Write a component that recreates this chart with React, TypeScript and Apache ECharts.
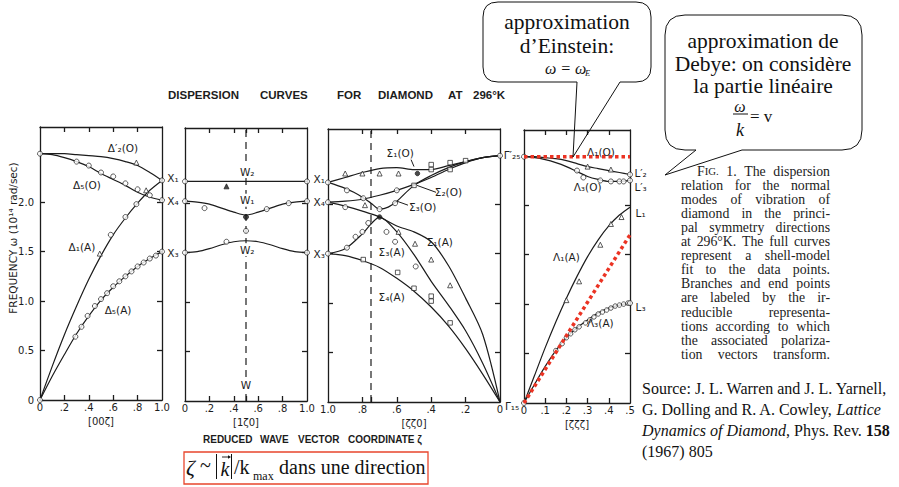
import React, { useEffect, useRef } from "react";
import * as echarts from "echarts";

// ---------------- data (ω in 10^14 rad/s) ----------------
// Panel 1: [00ζ], Δ direction
const deltaZeta = [0, 0.1, 0.2, 0.3, 0.4, 0.5, 0.6, 0.7, 0.8, 0.9, 1.0];
const delta2pO = [2.49, 2.49, 2.49, 2.48, 2.47, 2.46, 2.44, 2.41, 2.37, 2.3, 2.22];
const delta5O = [2.49, 2.48, 2.45, 2.41, 2.36, 2.29, 2.23, 2.17, 2.1, 2.05, 2.02];
const delta1A = [0, 0.34, 0.66, 0.95, 1.22, 1.46, 1.67, 1.84, 1.99, 2.12, 2.22];
const delta5A = [0, 0.24, 0.46, 0.67, 0.85, 1.01, 1.14, 1.25, 1.35, 1.43, 1.5];
const delta5OCircles = [[0.3, 2.41], [0.4, 2.37], [0.5, 2.3], [0.6, 2.26], [0.7, 2.19], [0.8, 2.13], [0.9, 2.07]];
const delta2pOTriangles = [[0.79, 2.4]];
const delta1ATriangles = [[0.49, 1.48], [0.87, 2.12]];
const delta1ACircles = [[0.58, 1.67], [0.7, 1.85], [0.79, 1.98]];
const delta5ACircles = [[0.29, 0.64], [0.34, 0.74], [0.39, 0.85], [0.45, 0.95], [0.5, 1.02], [0.55, 1.08], [0.6, 1.15], [0.65, 1.2], [0.7, 1.25], [0.75, 1.3], [0.8, 1.35], [0.85, 1.39], [0.9, 1.43], [0.95, 1.46]];
const deltaEnds = [[0, 2.49], [0, 0], [1, 2.22], [1, 2.02], [1, 1.5]];

// Panel 2: [1ζ0], X–W–X
const wZeta = [0, 0.1, 0.2, 0.3, 0.4, 0.5, 0.6, 0.7, 0.8, 0.9, 1.0];
const wTop = [2.22, 2.22, 2.22, 2.22, 2.22, 2.22, 2.22, 2.22, 2.22, 2.22, 2.22];
const wMiddle = [2.02, 2.01, 1.99, 1.95, 1.91, 1.88, 1.91, 1.95, 1.99, 2.01, 2.02];
const wLower = [1.5, 1.51, 1.54, 1.58, 1.61, 1.62, 1.61, 1.58, 1.54, 1.51, 1.5];
const wCircles = [[0.16, 1.95], [0.67, 1.94], [0.85, 2.0], [0.5, 1.72], [0.34, 1.61]];
const wFilled = [[0.5, 1.86]];
const wTriangles = [[0.34, 2.17]];
const wEnds = [[0, 2.22], [1, 2.22], [0, 2.02], [1, 2.02], [0, 1.5], [1, 1.5]];

// Panel 3: [ζζ0], Σ direction (ζ from 1 down to 0)
const sigmaZeta = [1.0, 0.9, 0.8, 0.7, 0.6, 0.5, 0.4, 0.3, 0.2, 0.1, 0];
const sigma1O = [2.22, 2.27, 2.32, 2.36, 2.37, 2.35, 2.35, 2.39, 2.43, 2.47, 2.49];
const sigma2O = [2.02, 2.03, 2.05, 2.09, 2.14, 2.2, 2.27, 2.35, 2.42, 2.47, 2.49];
const sigma3OZeta = [1.0, 0.9, 0.85, 0.8, 0.75, 0.7, 0.65, 0.6, 0.5, 0.4, 0.3, 0.2, 0.1, 0];
const sigma3O = [2.22, 2.16, 2.12, 2.07, 2.01, 1.95, 1.97, 2.03, 2.19, 2.29, 2.37, 2.43, 2.47, 2.49];
const sigma1A = [2.02, 1.98, 1.93, 1.87, 1.78, 1.72, 1.62, 1.38, 1.05, 0.68, 0];
const sigma3AZeta = [1.0, 0.9, 0.8, 0.75, 0.7, 0.6, 0.5, 0.4, 0.3, 0.2, 0.1, 0];
const sigma3A = [1.5, 1.55, 1.7, 1.8, 1.87, 1.72, 1.49, 1.22, 0.98, 0.72, 0.39, 0];
const sigma4A = [1.5, 1.48, 1.43, 1.36, 1.25, 1.12, 0.96, 0.77, 0.54, 0.28, 0];
const sigmaTriangles = [[0.9, 2.31], [0.8, 2.31], [0.7, 2.31], [0.59, 2.31], [0.785, 1.99], [0.59, 1.72], [0.494, 1.6], [0.4, 1.44], [0.29, 1.18]];
const sigmaFilled = [[0.48, 2.31], [0.7, 1.87]];
const sigmaCircles = [[0.89, 2.14], [0.795, 2.06], [0.7, 1.95], [0.61, 2.01], [0.6, 2.14], [0.89, 1.56], [0.84, 1.67], [0.8, 1.72], [0.766, 1.81], [0.66, 1.72], [0.61, 1.62], [0.49, 1.37], [0.9, 1.97]];
const sigmaSquares = [[0.4, 2.4], [0.4, 2.35], [0.29, 2.42], [0.29, 2.35], [0.2, 2.44], [0.5, 2.19], [0.795, 1.44], [0.595, 1.31], [0.5, 1.15], [0.4, 1.07], [0.4, 1.02], [0.29, 0.8]];
const sigmaEnds = [[1, 2.22], [1, 2.02], [1, 1.5], [0, 2.49]];
const sigma1OLeader = [[0.517, 2.45], [0.5, 2.38]];
const sigma2OLeader = [[0.372, 2.12], [0.483, 2.19]];
const sigma3OLeader = [[0.535, 1.99], [0.599, 2.03]];

// Panel 4: [ζζζ], Λ direction
const lambdaZeta = [0, 0.05, 0.1, 0.15, 0.2, 0.25, 0.3, 0.35, 0.4, 0.45, 0.5];
const lambda1O = [2.49, 2.49, 2.48, 2.47, 2.45, 2.42, 2.39, 2.37, 2.35, 2.33, 2.31];
const lambda3O = [2.49, 2.48, 2.46, 2.43, 2.39, 2.34, 2.29, 2.26, 2.24, 2.24, 2.25];
const lambda1A = [0, 0.28, 0.56, 0.82, 1.06, 1.28, 1.48, 1.65, 1.79, 1.9, 1.98];
const lambda3A = [0, 0.19, 0.37, 0.53, 0.66, 0.76, 0.84, 0.91, 0.96, 0.99, 1.01];
const lambda1OTriangles = [[0.3, 2.39], [0.41, 2.36]];
const lambda3OCircles = [[0.25, 2.35], [0.28, 2.28], [0.36, 2.25], [0.41, 2.24], [0.45, 2.24], [0.47, 2.24]];
const lambda1ATriangles = [[0.2, 1.04], [0.26, 1.23], [0.36, 1.6], [0.41, 1.81], [0.46, 1.88]];
const lambda3ACircles = [[0.15, 0.53], [0.18, 0.6], [0.2, 0.66], [0.22, 0.7], [0.24, 0.74], [0.26, 0.77], [0.29, 0.81], [0.31, 0.84], [0.33, 0.87], [0.35, 0.9], [0.37, 0.92], [0.39, 0.94], [0.41, 0.96], [0.43, 0.98], [0.45, 0.99], [0.47, 1.0], [0.49, 1.01]];
const lambdaEnds = [[0, 2.49], [0.5, 2.31], [0.5, 2.25], [0.5, 1.01], [0, 0]];
const einsteinLevel = [[0, 2.49], [0.5, 2.49]];
const debyeSlope = [[0, 0], [0.5, 1.7]];

// tick values / tick labels
const xLabels0to1 = [0, 0.2, 0.4, 0.6, 0.8, 1.0];
const xTicks00z = [0.2, 0.4, 0.6, 0.8];
const xTicks1z0 = [0.2, 0.4, 0.5, 0.6, 0.8];
const xTicksZZ0 = [0.2, 0.4, 0.6, 0.75, 0.8];
const xLabelsZZZ = [0, 0.1, 0.2, 0.3, 0.4, 0.5];
const xTicksZZZ = [0.1, 0.2, 0.3, 0.4];
const yLabelValues = [0, 0.5, 1.0, 1.5, 2.0];
const yTickValues = [0.5, 1.0, 1.5, 2.0];
const panelNames = ["[00ζ]", "[1ζ0]", "[ζζ0]", "[ζζζ]"];

// curve / point labels: panel, ζ, ω, text
const curveLabels: [number, number, number, string, boolean?][] = [
  [0, 0.68, 2.55, "Δ′₂(O)"],
  [0, 0.385, 2.17, "Δ₅(O)"],
  [0, 0.344, 1.55, "Δ₁(A)"],
  [0, 0.64, 0.91, "Δ₅(A)"],
  [0, 1.09, 2.24, "X₁"],
  [0, 1.09, 2.01, "X₄"],
  [0, 1.09, 1.49, "X₃"],
  [1, 0.51, 2.32, "W₂", true],
  [1, 0.51, 2.03, "W₁", true],
  [1, 0.51, 1.53, "W₂", true],
  [1, 0.5, 0.16, "W", true],
  [1, 1.1, 2.24, "X₁"],
  [1, 1.1, 2.01, "X₄"],
  [1, 1.1, 1.49, "X₃"],
  [2, 0.58, 2.52, "Σ₁(O)"],
  [2, 0.3, 2.12, "Σ₂(O)"],
  [2, 0.45, 1.97, "Σ₃(O)"],
  [2, 0.35, 1.62, "Σ₁(A)"],
  [2, 0.63, 1.52, "Σ₃(A)"],
  [2, 0.63, 1.06, "Σ₄(A)"],
  [2, -0.07, 2.5, "Γ′₂₅"],
  [2, -0.07, -0.04, "Γ₁₅"],
  [3, 0.363, 2.54, "Λ₁(O)"],
  [3, 0.3, 2.18, "Λ₃(O)"],
  [3, 0.2, 1.48, "Λ₁(A)"],
  [3, 0.36, 0.81, "Λ₃(A)"],
  [3, 0.55, 2.33, "L′₂"],
  [3, 0.55, 2.18, "L′₃"],
  [3, 0.55, 1.92, "L₁"],
  [3, 0.55, 0.97, "L₃"],
];

const captionLines = [
  "FIG. 1. The dispersion",
  "relation for the normal",
  "modes of vibration of",
  "diamond in the princi-",
  "pal symmetry directions",
  "at 296°K. The full curves",
  "represent a shell-model",
  "fit to the data points.",
  "Branches and end points",
  "are labeled by the ir-",
  "reducible representa-",
  "tions according to which",
  "the associated polariza-",
  "tion vectors transform.",
];

// ---------------- layout ----------------
const INK = "#1c1c1c";
const RED = "#eb3323";
const Y_MAX = 2.76;
const PANEL_H = 273;
const PANELS = [
  { left: 40, top: 127, width: 122, max: 1, inverse: false, ticks: xTicks00z, labels: xLabels0to1 },
  { left: 185, top: 128, width: 122, max: 1, inverse: false, ticks: xTicks1z0, labels: xLabels0to1 },
  { left: 328, top: 129, width: 172, max: 1, inverse: true, ticks: xTicksZZ0, labels: xLabels0to1 },
  { left: 524, top: 130, width: 106, max: 0.5, inverse: false, ticks: xTicksZZZ, labels: xLabelsZZZ },
];

const EINSTEIN_D = "M498 2H636Q651 2 651 17V67Q651 82 636 82H620L573 157L577 82H498Q483 82 483 67V17Q483 2 498 2Z";
const DEBYE_D = "M685 15H842Q862 15 862 35V130Q862 150 842 150H742L665 175L696 150H685Q665 150 665 130V35Q665 15 685 15Z";
echarts.graphic.registerShape("calloutEinstein", echarts.graphic.extendPath(EINSTEIN_D, {}));
echarts.graphic.registerShape("calloutDebye", echarts.graphic.extendPath(DEBYE_D, {}));

const SERIF = '"Liberation Serif", "Times New Roman", serif';
const SANS = '"Liberation Sans", Arial, sans-serif';
const DSANS = '"DejaVu Sans", sans-serif';

const fmtX = (v: number) => (v === 0 ? "0" : v > 0.999 ? "1.0" : "." + Math.round(v * 10));
const fmtY = (v: number) => (v === 0 ? "0" : v.toFixed(1));
const pairs = (xs: number[], ys: number[]) => xs.map((x, i) => [x, ys[i]]);

function buildOption() {
  const axisLineStyle = { color: INK, width: 1.3 };
  const grid = PANELS.map((p) => ({ left: p.left, top: p.top, width: p.width, height: PANEL_H }));
  const xAxis: any[] = [];
  const yAxis: any[] = [];
  PANELS.forEach((p, i) => {
    ["bottom", "top"].forEach((pos) => {
      xAxis.push({
        type: "value", gridIndex: i, position: pos, min: 0, max: p.max, inverse: p.inverse,
        axisLine: { show: true, onZero: false, lineStyle: axisLineStyle },
        axisTick: { show: true, inside: true, length: 5, customValues: p.ticks, lineStyle: axisLineStyle },
        axisLabel: pos === "bottom"
          ? { show: true, customValues: p.labels, formatter: fmtX, margin: 2, fontSize: 10, lineHeight: 11, fontFamily: DSANS, color: INK }
          : { show: false },
        splitLine: { show: false },
      });
    });
    ["left", "right"].forEach((pos) => {
      yAxis.push({
        type: "value", gridIndex: i, position: pos, min: 0, max: Y_MAX,
        axisLine: { show: true, onZero: false, lineStyle: axisLineStyle },
        axisTick: { show: true, inside: true, length: 5, customValues: yTickValues, lineStyle: axisLineStyle },
        axisLabel: i === 0 && pos === "left"
          ? { show: true, customValues: yLabelValues, formatter: fmtY, margin: 6, fontSize: 10, fontFamily: DSANS, color: INK }
          : { show: false },
        splitLine: { show: false },
      });
    });
  });

  const series: any[] = [];
  const curve = (p: number, data: number[][], extra: any = {}) =>
    series.push({
      type: "line", xAxisIndex: 2 * p, yAxisIndex: 2 * p, data, showSymbol: false, smooth: 0.3,
      lineStyle: { color: INK, width: 1.2 }, silent: true, z: 2, ...extra,
    });
  const marks = (p: number, data: number[][], symbol: string, size: number, filled = false) =>
    series.push({
      type: "scatter", xAxisIndex: 2 * p, yAxisIndex: 2 * p, data, symbol, symbolSize: size, silent: true, z: 4,
      itemStyle: { color: filled ? INK : "#fff", borderColor: INK, borderWidth: 0.9 },
    });

  curve(0, pairs(deltaZeta, delta2pO));
  curve(0, pairs(deltaZeta, delta5O));
  curve(0, pairs(deltaZeta, delta1A));
  curve(0, pairs(deltaZeta, delta5A));
  marks(0, delta5OCircles, "circle", 5);
  marks(0, delta2pOTriangles, "triangle", 5);
  marks(0, delta1ATriangles, "triangle", 5);
  marks(0, delta1ACircles, "circle", 5);
  marks(0, delta5ACircles, "circle", 5);
  marks(0, deltaEnds, "circle", 5);

  curve(1, pairs(wZeta, wTop), { smooth: false });
  curve(1, pairs(wZeta, wMiddle));
  curve(1, pairs(wZeta, wLower));
  curve(1, [[0.5, 0], [0.5, Y_MAX]], { smooth: false, lineStyle: { color: INK, width: 1.2, type: [7, 5] }, z: 1 });
  marks(1, wCircles, "circle", 5);
  marks(1, wFilled, "circle", 5, true);
  marks(1, wTriangles, "triangle", 5, true);
  marks(1, wEnds, "circle", 5);

  curve(2, pairs(sigmaZeta, sigma1O));
  curve(2, pairs(sigmaZeta, sigma2O));
  curve(2, pairs(sigma3OZeta, sigma3O));
  curve(2, pairs(sigmaZeta, sigma1A));
  curve(2, pairs(sigma3AZeta, sigma3A));
  curve(2, pairs(sigmaZeta, sigma4A));
  curve(2, [[0.75, 0], [0.75, Y_MAX]], { smooth: false, lineStyle: { color: INK, width: 1.2, type: [7, 5] }, z: 1 });
  curve(2, sigma1OLeader, { smooth: false, lineStyle: { color: INK, width: 1 } });
  curve(2, sigma2OLeader, { smooth: false, lineStyle: { color: INK, width: 1 } });
  curve(2, sigma3OLeader, { smooth: false, lineStyle: { color: INK, width: 1 } });
  marks(2, sigmaTriangles, "triangle", 5);
  marks(2, sigmaFilled, "circle", 4.5, true);
  marks(2, sigmaCircles, "circle", 5);
  marks(2, sigmaSquares, "rect", 4.5);
  marks(2, sigmaEnds, "circle", 5);

  curve(3, pairs(lambdaZeta, lambda1O));
  curve(3, pairs(lambdaZeta, lambda3O));
  curve(3, pairs(lambdaZeta, lambda1A));
  curve(3, pairs(lambdaZeta, lambda3A));
  marks(3, lambda1OTriangles, "triangle", 5);
  marks(3, lambda3OCircles, "circle", 5);
  marks(3, lambda1ATriangles, "triangle", 5);
  marks(3, lambda3ACircles, "circle", 4.5);
  marks(3, lambdaEnds, "circle", 5);
  curve(3, einsteinLevel, { smooth: false, clip: false, lineStyle: { color: RED, width: 3.5, type: [3.5, 3] }, z: 6 });
  curve(3, debyeSlope, { smooth: false, clip: false, lineStyle: { color: RED, width: 3.5, type: [3.5, 3] }, z: 6 });

  return { backgroundColor: "#fff", animation: false, grid, xAxis, yAxis, series };
}

function txt(x: number, y: number, text: string, o: any = {}) {
  const { rotation, ...style } = o;
  return {
    type: "text", x, y, rotation: rotation || 0, silent: true, z: 10,
    style: { text, fill: INK, fontFamily: SANS, fontSize: 11, align: "left", verticalAlign: "middle", ...style },
  };
}

function staticGraphics(measure: (t: string, f: string) => number) {
  const g: any[] = [];
  // Title
  ([["DISPERSION", 168], ["CURVES", 260], ["FOR", 337], ["DIAMOND", 378], ["AT", 448], ["296°K", 473]] as [string, number][]).forEach(
    ([w, x]) => g.push(txt(x, 95, w, { fontWeight: "bold", fontSize: 11.5 }))
  );
  // Y axis name
  g.push(txt(13, 238, "FREQUENCY ω (10¹⁴ rad/sec)", { align: "center", rotation: Math.PI / 2, fontSize: 10.5, fontFamily: DSANS }));
  // panel names (just under each panel's tick labels)
  PANELS.forEach((p, i) =>
    g.push(txt(p.left + p.width / 2, p.top + PANEL_H + 21, panelNames[i], { align: "center", fontSize: 10, lineHeight: 11, fontFamily: DSANS }))
  );
  // reduced wave vector coordinate
  ([["REDUCED", 203], ["WAVE", 260], ["VECTOR", 298], ["COORDINATE ζ", 348]] as [string, number][]).forEach(([w, x]) =>
    g.push(txt(x, 439, w, { fontWeight: "bold", fontSize: 10 }))
  );

  // callouts
  g.push({ type: "calloutEinstein", x: 0, y: 0, silent: true, z: 9, style: { fill: "none", stroke: "#111", lineWidth: 1 } });
  g.push({ type: "calloutDebye", x: 0, y: 0, silent: true, z: 9, style: { fill: "none", stroke: "#111", lineWidth: 1 } });
  const cs = { fontFamily: SERIF, fontSize: 21.5, lineHeight: 22, align: "center", fill: "#111" };
  g.push(txt(567, 22, "approximation", cs));
  g.push(txt(567, 46, "d’Einstein:", cs));
  g.push(txt(545, 68, "ω = ω", { ...cs, align: "left", fontSize: 16, lineHeight: 16, fontStyle: "italic" }));
  g.push(txt(585, 73, "E", { ...cs, align: "left", fontSize: 8.5, lineHeight: 9, fontStyle: "italic" }));
  g.push(txt(763, 41, "approximation de", cs));
  g.push(txt(763, 64, "Debye: on considère", cs));
  g.push(txt(763, 86, "la partie linéaire", cs));
  g.push(txt(740, 106, "ω", { ...cs, fontSize: 16, lineHeight: 14, fontStyle: "italic" }));
  g.push({ type: "line", silent: true, z: 10, shape: { x1: 733, y1: 114, x2: 748, y2: 114 }, style: { stroke: "#111", lineWidth: 1 } });
  g.push(txt(740, 130, "k", { ...cs, fontSize: 18, lineHeight: 16, fontStyle: "italic" }));
  g.push(txt(750, 116, "= v", { ...cs, align: "left", fontSize: 17, lineHeight: 16 }));

  // caption (justified)
  const capFont = 13.8;
  const capFontStr = `${capFont}px "Liberation Serif"`;
  captionLines.forEach((line, i) => {
    const y = 171 + i * 14.1;
    const x0 = i === 0 ? 697 : 681;
    const x1 = 830;
    const words = line.split(" ");
    const widths = words.map((w, j) =>
      i === 0 && j === 0 ? measure("F", capFontStr) + measure("IG.", `${capFont * 0.78}px "Liberation Serif"`) : measure(w, capFontStr)
    );
    const total = widths.reduce((a, b) => a + b, 0);
    const gap = words.length > 1 ? (x1 - x0 - total) / (words.length - 1) : 0;
    let x = x0;
    words.forEach((w, j) => {
      if (i === 0 && j === 0) {
        g.push(txt(x, y, "{a|F}{b|IG.}", {
          fontFamily: SERIF, fontSize: capFont, lineHeight: 13, fill: "#222",
          rich: { a: { fontFamily: SERIF, fontSize: capFont, lineHeight: 13, fill: "#222" }, b: { fontFamily: SERIF, fontSize: capFont * 0.78, lineHeight: 13, fill: "#222" } },
        }));
      } else {
        g.push(txt(x, y, w, { fontFamily: SERIF, fontSize: capFont, lineHeight: 13, fill: "#222" }));
      }
      x += widths[j] + gap;
    });
  });

  // source
  const src = { fontFamily: SERIF, fontSize: 16, lineHeight: 18, fill: "#111" };
  const rich = {
    i: { fontFamily: SERIF, fontSize: 16, lineHeight: 18, fontStyle: "italic", fill: "#111" },
    b: { fontFamily: SERIF, fontSize: 16, lineHeight: 18, fontWeight: "bold", fill: "#111" },
  };
  g.push(txt(642, 388, "Source: J. L. Warren and J. L. Yarnell,", src));
  g.push(txt(642, 409, "G. Dolling and R. A. Cowley, {i|Lattice}", { ...src, rich }));
  g.push(txt(642, 430, "{i|Dynamics of Diamond}, Phys. Rev. {b|158}", { ...src, rich }));
  g.push(txt(642, 451, "(1967) 805", src));

  // bottom red box
  g.push({ type: "rect", silent: true, z: 9, shape: { x: 184, y: 452, width: 244, height: 32 }, style: { fill: "none", stroke: "#e8452c", lineWidth: 1.3 } });
  const bs = { fontFamily: SERIF, fontSize: 20, fill: "#111" };
  g.push(txt(186, 467, "ζ", { ...bs, fontSize: 22, fontStyle: "italic" }));
  g.push(txt(200, 465, "~", bs));
  g.push({ type: "line", silent: true, z: 10, shape: { x1: 216.5, y1: 454, x2: 216.5, y2: 479 }, style: { stroke: "#111", lineWidth: 1 } });
  g.push({ type: "line", silent: true, z: 10, shape: { x1: 231.5, y1: 454, x2: 231.5, y2: 479 }, style: { stroke: "#111", lineWidth: 1 } });
  g.push(txt(220.5, 469, "k", { ...bs, fontStyle: "italic" }));
  g.push({ type: "line", silent: true, z: 10, shape: { x1: 222, y1: 457, x2: 229, y2: 457 }, style: { stroke: "#111", lineWidth: 0.9 } });
  g.push({ type: "polygon", silent: true, z: 10, shape: { points: [[231, 457], [228, 455.3], [228, 458.7]] }, style: { fill: "#111" } });
  g.push(txt(234, 467, "/k", bs));
  g.push(txt(253, 476, "max", { ...bs, fontSize: 12, lineHeight: 12 }));
  g.push(txt(279, 467, "dans une direction", bs));
  return g;
}

export default function App() {
  const ref = useRef<HTMLDivElement>(null);
  useEffect(() => {
    if (!ref.current) return;
    const chart = echarts.init(ref.current, null, { renderer: "svg", width: 899, height: 487 });
    chart.setOption(buildOption());
    const ctx = document.createElement("canvas").getContext("2d")!;
    const measure = (t: string, f: string) => {
      ctx.font = f;
      return ctx.measureText(t).width;
    };
    const labelGraphics = curveLabels.map(([p, x, y, t, bg]) => {
      const pt = chart.convertToPixel({ xAxisIndex: 2 * p, yAxisIndex: 2 * p } as any, [x, y]) as number[];
      return txt(pt[0], pt[1], t, {
        align: "center", fontSize: 10.5, fontFamily: DSANS,
        ...(bg ? { backgroundColor: "#fff", padding: [1, 1] } : {}),
      });
    });
    chart.setOption({ graphic: [...staticGraphics(measure), ...labelGraphics] });
    return () => chart.dispose();
  }, []);
  return <div ref={ref} style={{ position: "fixed", left: 0, top: 0, width: 899, height: 487, background: "#fff" }} />;
}
